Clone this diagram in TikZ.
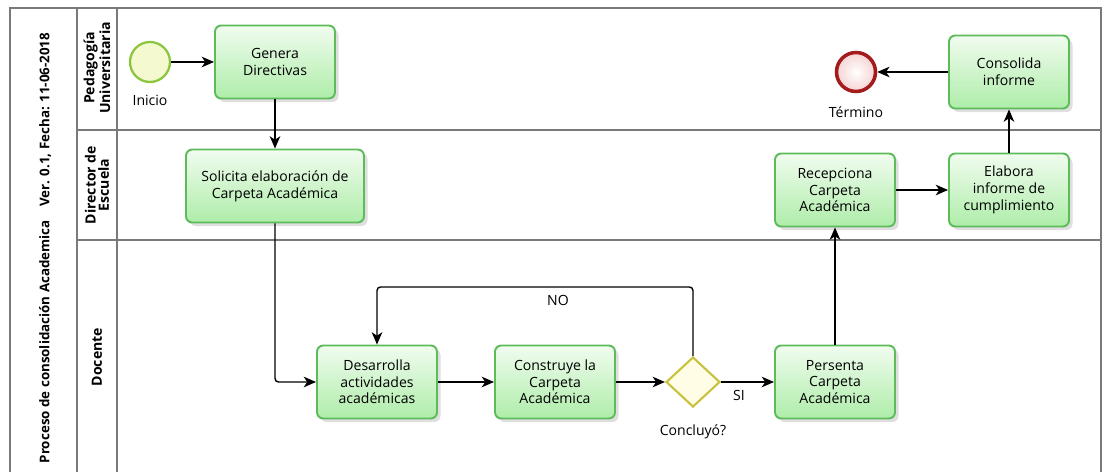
\documentclass[tikz,border=0pt]{standalone}
\usepackage{fontspec}
\setmainfont{Open Sans}
\usetikzlibrary{arrows.meta,shadows,shapes.geometric}

\definecolor{laneline}{HTML}{7A7A7A}
\definecolor{taskline}{HTML}{5DBB5A}
\definecolor{tasktop}{HTML}{F1FCEF}
\definecolor{taskbot}{HTML}{AEEDA9}
\definecolor{startline}{HTML}{8CC63F}
\definecolor{startfill}{HTML}{F5F9CF}
\definecolor{endline}{HTML}{A31B1B}
\definecolor{endfill}{HTML}{F6D3D3}
\definecolor{gateline}{HTML}{C9C23E}
\definecolor{gatefill}{HTML}{FFFDE6}

\begin{document}
\begin{tikzpicture}[x = 0.02cm, y = -0.02cm,
                    font = \fontsize{8}{9.5}\selectfont,
                    >={Stealth[length = 7pt, width = 6pt, inset = 2pt]}]
\tikzstyle{TaskStyle}=[rectangle, rounded corners = 3.5pt,
                       draw = taskline, line width = 1.1pt,
                       top color = tasktop, bottom color = taskbot,
                       minimum width = 2.4cm, minimum height = 1.46cm,
                       align = center,
                       drop shadow = {opacity = 0.25, shadow xshift = 2pt, shadow yshift = -2pt}]
\tikzstyle{LaneStyle}=[draw = laneline, line width = 0.9pt]
\tikzstyle{LaneText}=[rotate = 90, align = center, font = \fontsize{8}{7.5}\selectfont\bfseries]
\tikzstyle{FlowStyle}=[->, line width = 0.8pt, rounded corners = 2pt]
\useasboundingbox (0,0) rectangle (1109,472);
\clip (0,0) rectangle (1109,472);
% pool and lanes
\draw[LaneStyle] (10,8) rectangle (1101,490);
\draw[LaneStyle] (77,8) -- (77,490);
\draw[LaneStyle] (117,8) -- (117,490);
\draw[LaneStyle] (77,130) -- (1101,130);
\draw[LaneStyle] (77,240) -- (1101,240);
\node[rotate = 90, font = \fontsize{7.6}{9}\selectfont\bfseries] (pool) at (45,248)
  {Proceso de consolidación Academica\quad Ver. 0.1, Fecha: 11-06-2018};
\node[LaneText] (lpu) at (97,68) {Pedagogía\\Universitaria};
\node[LaneText] (lde) at (97,185) {Director de\\Escuela};
\node[LaneText] (ldo) at (97,357) {Docente};
% events and gateway
\node[circle, minimum size = 0.8cm, draw = startline, line width = 1.3pt, fill = startfill] (ini) at (150,62) {};
\node (inilbl) at (150,100) {Inicio};
\node[circle, minimum size = 0.78cm, draw = endline, line width = 2pt, inner color = white, outer color = endfill] (fin) at (856,72) {};
\node (finlbl) at (856,112) {Término};
\node[diamond, minimum width = 1.08cm, minimum height = 1.0cm, inner sep = 0pt, draw = gateline, line width = 1.2pt, fill = gatefill] (dec) at (693,382) {};
\node (declbl) at (693,432) {Concluyó?};
% tasks
\node[TaskStyle] (gen) at (275,62) {Genera\\Directivas};
\node[TaskStyle, minimum width = 3.56cm] (sol) at (275,186) {Solicita elaboración de\\Carpeta Académica};
\node[TaskStyle] (des) at (377,382) {Desarrolla\\actividades\\académicas};
\node[TaskStyle] (con) at (555,382) {Construye la\\Carpeta\\Académica};
\node[TaskStyle] (per) at (835,382) {Persenta\\Carpeta\\Académica};
\node[TaskStyle] (rec) at (835,190) {Recepciona\\Carpeta\\Académica};
\node[TaskStyle] (ela) at (1009,190) {Elabora\\informe de\\cumplimiento};
\node[TaskStyle] (cns) at (1009,72) {Consolida\\informe};
% flows
\coordinate (loop) at (693,287);
\draw[FlowStyle] (ini) -- (gen);
\draw[FlowStyle] (gen) -- (sol);
\draw[FlowStyle] (sol.south) |- (des.west);
\draw[FlowStyle] (des) -- (con);
\draw[FlowStyle] (con) -- (dec);
\draw[FlowStyle] (dec.north) -- (loop) -| (des.north);
\node (nolbl) at (558,300) {NO};
\draw[FlowStyle] (dec.east) -- (per.west);
\node (silbl) at (739,395) {SI};
\draw[FlowStyle] (per) -- (rec);
\draw[FlowStyle] (rec) -- (ela);
\draw[FlowStyle] (ela) -- (cns);
\draw[FlowStyle] (cns) -- (fin);
\end{tikzpicture}
\end{document}
